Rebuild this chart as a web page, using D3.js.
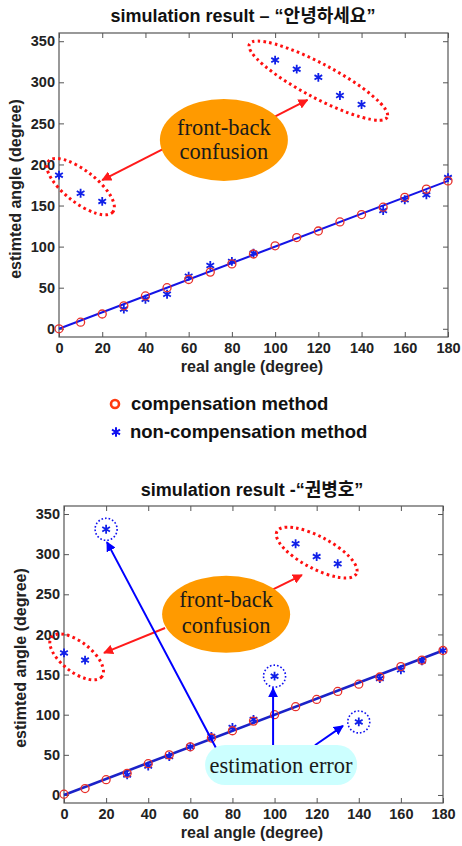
<!DOCTYPE html>
<html>
<head>
<meta charset="utf-8">
<script src="https://cdn.jsdelivr.net/npm/d3@7"></script>
<style>
  html, body { margin: 0; padding: 0; background: #fff; }
  svg { display: block; }
  text { font-family: "Liberation Sans", Arial, "Noto Sans CJK KR", sans-serif; }
  text.serif { font-family: "Liberation Serif", "Times New Roman", serif; }
</style>
</head>
<body>
<svg id="chart" width="462" height="846"></svg>
<script>
// ---------------- DATA ----------------
const realAngle = [0,10,20,30,40,50,60,70,80,90,100,110,120,130,140,150,160,170,180];

const topCompensation    = [0,8,18,28,40,50,60,69,79,91,101,111,119,130,139,148,160,170,180];
const topNonCompensation = [187,165,155,24,36,42,64,77,82,92,327,316,306,284,273,144,157,163,184];

const bottomCompensation    = [1,8,19,27,39,50,60,71,80,92,100,110,119,129,138,147,160,168,180];
const bottomNonCompensation = [177,168,331,25,36,48,60,73,84,94,148,313,297,288,91,145,156,167,180];

const referenceX = [0,180];
const referenceY = [0,180];

const xTicks = [0,20,40,60,80,100,120,140,160,180];
const yTicks = [0,50,100,150,200,250,300,350];

const topTitle = "simulation result – “안녕하세요”";
const bottomTitle = "simulation result -“권병호”";
const xLabel = "real angle (degree)";
const yLabel = "estimted angle (degree)";
const legendLabels = ["compensation method", "non-compensation method"];
const confusionText = ["front-back", "confusion"];
const errorText = "estimation error";

// ---------------- HELPERS ----------------
const svg = d3.select("#chart");
const defs = svg.append("defs");
function marker(id, color) {
  defs.append("marker").attr("id", id)
    .attr("viewBox", "0 0 10 10").attr("refX", 9).attr("refY", 5)
    .attr("markerWidth", 5).attr("markerHeight", 5).attr("markerUnits", "strokeWidth")
    .attr("orient", "auto")
    .append("path").attr("d", "M0,0 L10,5 L0,10 z").attr("fill", color);
}
marker("arrRed", "#ff1a1a");
marker("arrBlue", "#0000ff");

const starSym = d3.symbol().type(d3.symbolAsterisk).size(55);

function drawChart(cfg) {
  const x = d3.scaleLinear().domain([0,180]).range(cfg.xr);
  const y = d3.scaleLinear().domain([-10,360]).range(cfg.yr);
  const g = svg.append("g");

  // title
  g.append("text").attr("x", cfg.titleX).attr("y", cfg.titleY)
    .attr("text-anchor", "middle").attr("font-size", 18).attr("font-weight", "bold")
    .attr("fill", "#111").text(cfg.title);

  // frame
  g.append("rect").attr("x", cfg.xr[0]).attr("y", cfg.yr[1])
    .attr("width", cfg.xr[1]-cfg.xr[0]).attr("height", cfg.yr[0]-cfg.yr[1])
    .attr("fill", "none").attr("stroke", "#555").attr("stroke-width", 1.2);

  const axisStyle = sel => {
    sel.select(".domain").remove();
    sel.selectAll(".tick line").attr("stroke", "#555").attr("stroke-width", 1);
    sel.selectAll(".tick text").attr("font-size", 14.5).attr("font-weight", "bold")
      .attr("fill", "#222");
  };
  g.append("g").attr("transform", `translate(0,${cfg.yr[0]})`)
    .call(d3.axisBottom(x).tickValues(xTicks).tickSize(-5).tickPadding(6)).call(axisStyle);
  g.append("g").attr("transform", `translate(0,${cfg.yr[1]})`)
    .call(d3.axisTop(x).tickValues(xTicks).tickSize(-5).tickFormat("")).call(axisStyle);
  g.append("g").attr("transform", `translate(${cfg.xr[0]},0)`)
    .call(d3.axisLeft(y).tickValues(yTicks).tickSize(-5).tickPadding(4)).call(axisStyle);
  g.append("g").attr("transform", `translate(${cfg.xr[1]},0)`)
    .call(d3.axisRight(y).tickValues(yTicks).tickSize(-5).tickFormat("")).call(axisStyle);

  // axis labels
  g.append("text").attr("x", cfg.xLabelX).attr("y", cfg.xLabelY)
    .attr("text-anchor", "middle").attr("font-size", 16).attr("font-weight", "bold")
    .attr("fill", "#222").text(xLabel);
  g.append("text")
    .attr("transform", `translate(${cfg.yLabelX},${cfg.yLabelY}) rotate(-90)`)
    .attr("text-anchor", "middle").attr("dy", "0.35em")
    .attr("font-size", 16).attr("font-weight", "bold").attr("fill", "#222").text(yLabel);

  // reference line
  const line = d3.line().x(d => x(d[0])).y(d => y(d[1]));
  g.append("path").datum(referenceX.map((v,i) => [v, referenceY[i]]))
    .attr("d", line).attr("fill", "none").attr("stroke", cfg.lineColor).attr("stroke-width", cfg.lineWidth);

  // non-compensation stars
  g.append("g").selectAll("path").data(realAngle.map((v,i) => [v, cfg.non[i]]))
    .join("path").attr("d", starSym)
    .attr("transform", d => `translate(${x(d[0])},${y(d[1])})`)
    .attr("fill", "none").attr("stroke", "#1020e8").attr("stroke-width", 1.8);

  // compensation circles
  g.append("g").selectAll("circle").data(realAngle.map((v,i) => [v, cfg.comp[i]]))
    .join("circle").attr("cx", d => x(d[0])).attr("cy", d => y(d[1])).attr("r", 4)
    .attr("fill", "none").attr("stroke", "#e8302a").attr("stroke-width", 1.3);

  // annotations: red dotted ellipses
  cfg.redEllipses.forEach(e => {
    g.append("ellipse")
      .attr("transform", `translate(${x(e.c[0])},${y(e.c[1])}) rotate(${e.rot})`)
      .attr("rx", e.a).attr("ry", e.b)
      .attr("fill", "none").attr("stroke", "#ff1010").attr("stroke-width", 3)
      .attr("stroke-dasharray", "2.6,3.2");
  });

  // red arrows
  cfg.redArrows.forEach(a => {
    g.append("line").attr("x1", x(a[0][0])).attr("y1", y(a[0][1]))
      .attr("x2", x(a[1][0])).attr("y2", y(a[1][1]))
      .attr("stroke", "#ff1a1a").attr("stroke-width", 2).attr("marker-end", "url(#arrRed)");
  });

  // orange bubble
  const oc = cfg.orange;
  g.append("ellipse").attr("cx", x(oc.c[0])).attr("cy", y(oc.c[1]))
    .attr("rx", oc.rx).attr("ry", oc.ry).attr("fill", "#ff9a00");
  confusionText.forEach((t, i) => {
    g.append("text").attr("class", "serif")
      .attr("x", x(oc.c[0])).attr("y", y(oc.c[1]) + oc.dy[i])
      .attr("text-anchor", "middle").attr("font-size", 22.5)
      .attr("fill", "#1a1a1a").text(t);
  });

  return {x, y, g};
}

// ---------------- TOP CHART ----------------
drawChart({
  xr: [59, 448], yr: [337, 33],
  title: topTitle, titleX: 243, titleY: 22,
  xLabelX: 252, xLabelY: 372, yLabelX: 15, yLabelY: 189,
  comp: topCompensation, non: topNonCompensation,
  lineColor: "#1414e6", lineWidth: 2,
  redEllipses: [
    {c: [120, 302], a: 78, b: 17, rot: 28},
    {c: [10, 173], a: 41, b: 16, rot: 38}
  ],
  redArrows: [
    [[98.5, 256.5], [115, 278.5]],
    [[49, 220], [20, 181]]
  ],
  orange: {c: [76.3, 229.8], rx: 64, ry: 41, dy: [-5, 19]}
});

// legend
const lg = svg.append("g");
lg.append("circle").attr("cx", 115).attr("cy", 404).attr("r", 4)
  .attr("fill", "none").attr("stroke", "#ff3a10").attr("stroke-width", 2.6);
lg.append("text").attr("x", 131).attr("y", 410).attr("font-size", 18.5).attr("font-weight", "bold")
  .attr("fill", "#111").text(legendLabels[0]);
lg.append("path").attr("d", d3.symbol().type(d3.symbolAsterisk).size(60))
  .attr("transform", "translate(116,432)")
  .attr("fill", "none").attr("stroke", "#1010f0").attr("stroke-width", 2);
lg.append("text").attr("x", 130).attr("y", 438).attr("font-size", 18.5).attr("font-weight", "bold")
  .attr("fill", "#111").text(legendLabels[1]);

// ---------------- BOTTOM CHART ----------------
const bottom = drawChart({
  xr: [64, 443], yr: [803, 506],
  title: bottomTitle, titleX: 252, titleY: 496,
  xLabelX: 252, xLabelY: 838, yLabelX: 20, yLabelY: 658,
  comp: bottomCompensation, non: bottomNonCompensation,
  lineColor: "#1a22c8", lineWidth: 2.6,
  redEllipses: [
    {c: [120, 302], a: 45, b: 16, rot: 28},
    {c: [6, 172], a: 32, b: 15, rot: 38}
  ],
  redArrows: [
    [[98.8, 255.4], [113, 274]],
    [[48, 208], [19, 177]]
  ],
  orange: {c: [77, 225], rx: 64, ry: 38.5, dy: [-7, 18.5]}
});

{
  const {x, y, g} = bottom;
  // blue dotted circles around erroneous estimates
  const errIdx = [2, 10, 14];
  errIdx.forEach(i => {
    g.append("circle").attr("cx", x(realAngle[i])).attr("cy", y(bottomNonCompensation[i])).attr("r", 11)
      .attr("fill", "none").attr("stroke", "#1010f0").attr("stroke-width", 1.6)
      .attr("stroke-dasharray", "1.6,2");
  });
  // blue arrows
  const blueArrows = [
    [[72.7, 56], [20.4, 315]],
    [[99.3, 62], [99.3, 133]],
    [[119.2, 62], [132.5, 86]]
  ];
  blueArrows.forEach(a => {
    g.append("line").attr("x1", x(a[0][0])).attr("y1", y(a[0][1]))
      .attr("x2", x(a[1][0])).attr("y2", y(a[1][1]))
      .attr("stroke", "#0000ff").attr("stroke-width", 2).attr("marker-end", "url(#arrBlue)");
  });
  // cyan label box
  const bx0 = x(67), bx1 = x(139.2), by0 = y(62.3), by1 = y(12.4);
  g.append("rect").attr("x", bx0).attr("y", by0).attr("width", bx1 - bx0).attr("height", by1 - by0)
    .attr("rx", 20).attr("ry", 20).attr("fill", "#ccffff");
  g.append("text").attr("class", "serif")
    .attr("x", (bx0 + bx1) / 2).attr("y", y(27.4))
    .attr("text-anchor", "middle").attr("font-size", 22.5)
    .attr("fill", "#1a1a1a").text(errorText);
}
</script>
</body>
</html>
